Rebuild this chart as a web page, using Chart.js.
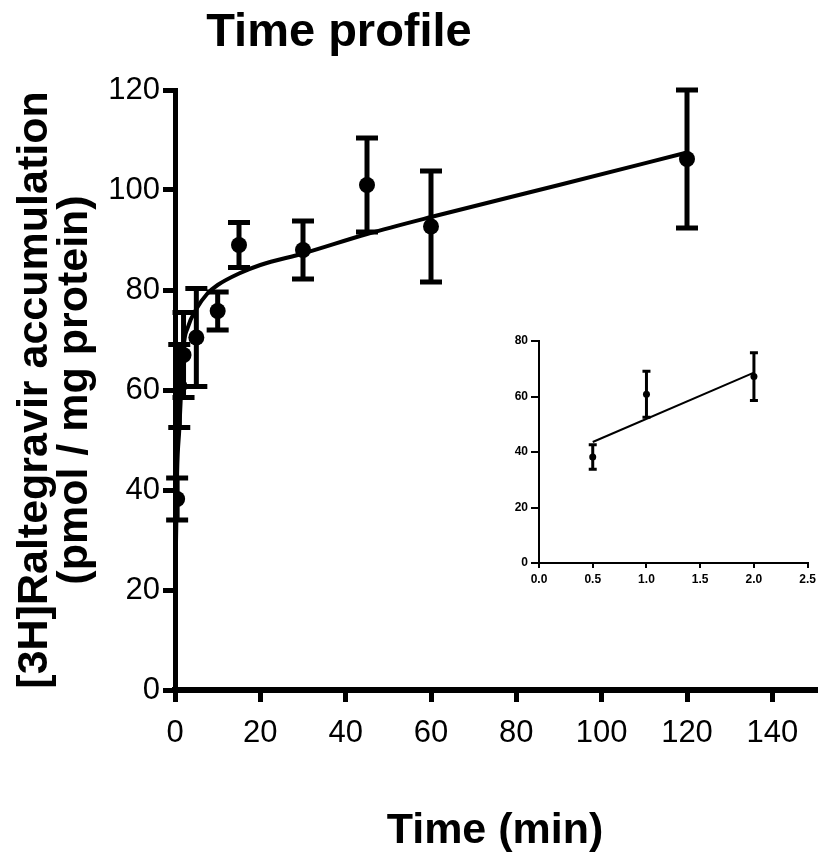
<!DOCTYPE html>
<html><head><meta charset="utf-8">
<script src="https://cdn.jsdelivr.net/npm/chart.js@4.4.0/dist/chart.umd.min.js"></script>
<style>
html,body{margin:0;padding:0;background:#fff;}
#wrap{position:relative;width:823px;height:861px;overflow:hidden;}
#main{position:absolute;left:0;top:0;}
#inset{position:absolute;left:480px;top:325px;}
</style></head><body>
<div id="wrap"><canvas id="main" width="823" height="861"></canvas><canvas id="inset" width="340" height="270"></canvas></div>
<script>
// ---- data ----
const timeMin = [0.5, 1, 2, 5, 10, 15, 30, 45, 60, 120];
const accumulation = [38.2, 60.8, 67, 70.5, 75.8, 89, 88, 101, 92.7, 106.2];
const accumulationSEM = [4.2, 8.3, 8.5, 9.8, 3.8, 4.5, 5.8, 9.4, 11.1, 13.8];
const fitTime = [0, 0.5, 1, 2, 3, 5, 7.5, 10, 15, 20, 30, 45, 60, 90, 120];
const fitValue = [16, 43.5, 52, 68.5, 72.5, 76.2, 79.2, 81, 83.3, 85, 87.3, 91.2, 94.6, 101, 107.5];
const insetTime = [0.5, 1, 2];
const insetValue = [38.2, 60.8, 67.2];
const insetSEM = [4.4, 8.3, 8.6];
const insetFitTime = [0.5, 2];
const insetFitValue = [43.6, 68.6];
const xTicksMain = [0, 20, 40, 60, 80, 100, 120, 140];
const yTicksMain = [0, 20, 40, 60, 80, 100, 120];
const xTicksInset = [0, 0.5, 1, 1.5, 2, 2.5];
const yTicksInset = [0, 20, 40, 60, 80];
const xTitle = 'Time (min)';
const yTitle = ['[3H]Raltegravir accumulation', '(pmol / mg protein)'];
const chartTitle = 'Time profile';

const SANS = "'Liberation Sans', Arial, sans-serif";

const pts = (xs, ys) => xs.map((x, i) => ({x: x, y: ys[i]}));

const errorBars = {
  id: 'errorBars',
  afterDatasetsDraw(chart, args, opts) {
    const ds = chart.data.datasets[opts.datasetIndex];
    const xs = chart.scales.x, ys = chart.scales.y;
    const ctx = chart.ctx;
    ctx.save();
    ctx.strokeStyle = '#000';
    ctx.lineCap = 'butt';
    ds.data.forEach((p, i) => {
      const e = opts.errors[i];
      const px = xs.getPixelForValue(p.x);
      const top = ys.getPixelForValue(p.y + e);
      const bot = ys.getPixelForValue(p.y - e);
      ctx.lineWidth = opts.lineWidth;
      ctx.beginPath();
      ctx.moveTo(px, top); ctx.lineTo(px, bot);
      ctx.stroke();
      ctx.lineWidth = opts.capWidth;
      ctx.beginPath();
      ctx.moveTo(px - opts.capHalf, top); ctx.lineTo(px + opts.capHalf, top);
      ctx.moveTo(px - opts.capHalf, bot); ctx.lineTo(px + opts.capHalf, bot);
      ctx.stroke();
    });
    ctx.restore();
  }
};

const titlePlugin = {
  id: 'mainTitle',
  afterDraw(chart, args, opts) {
    if (!opts.text) return;
    const ctx = chart.ctx;
    ctx.save();
    ctx.fillStyle = '#000';
    ctx.font = opts.font;
    ctx.textAlign = 'center';
    ctx.textBaseline = 'alphabetic';
    ctx.fillText(opts.text, chart.chartArea.left + opts.dx, opts.y);
    ctx.restore();
  }
};

Chart.register(errorBars, titlePlugin);

new Chart(document.getElementById('main'), {
  type: 'scatter',
  data: {
    datasets: [
      {
        data: pts(fitTime, fitValue),
        showLine: true,
        cubicInterpolationMode: 'monotone',
        borderColor: '#000',
        borderWidth: 4,
        pointRadius: 0,
        fill: false
      },
      {
        data: pts(timeMin, accumulation),
        showLine: false,
        pointRadius: 8,
        pointBackgroundColor: '#000',
        pointBorderColor: '#000',
        pointBorderWidth: 0
      }
    ]
  },
  options: {
    responsive: false,
    animation: false,
    events: [],
    layout: { padding: { top: 90, right: 2, left: 0, bottom: 0 } },
    plugins: {
      legend: { display: false },
      tooltip: { enabled: false },
      title: { display: false },
      errorBars: { datasetIndex: 1, errors: accumulationSEM, lineWidth: 5, capWidth: 5, capHalf: 11 },
      mainTitle: { text: chartTitle, font: "bold 47px " + SANS, dx: 164, y: 46 }
    },
    scales: {
      x: {
        type: 'linear', min: 0, max: 150,
        afterFit(s) { s.height = 171; },
        afterBuildTicks(s) { s.ticks = xTicksMain.map(v => ({value: v})); },
        grid: { drawOnChartArea: false, drawTicks: true, tickLength: 12, lineWidth: 5, color: '#000' },
        border: { display: true, width: 6, color: '#000' },
        ticks: { color: '#000', padding: 13, maxRotation: 0, font: { family: SANS, size: 31 } },
        title: { display: true, text: xTitle, color: '#000', padding: { top: 0, bottom: 8 },
                 font: { family: SANS, size: 43, weight: 'bold', lineHeight: 1.0 } }
      },
      y: {
        type: 'linear', min: 0, max: 120,
        afterFit(s) { s.width = 175; },
        afterBuildTicks(s) { s.ticks = yTicksMain.map(v => ({value: v})); },
        grid: { drawOnChartArea: false, drawTicks: true, tickLength: 12, lineWidth: 5, color: '#000' },
        border: { display: true, width: 5, color: '#000' },
        ticks: { color: '#000', padding: 3, font: { family: SANS, size: 31 } },
        title: { display: true, text: yTitle, color: '#000', padding: { top: 15, bottom: 0 },
                 font: { family: SANS, size: 43, weight: 'bold', lineHeight: 0.93 } }
      }
    }
  }
});

new Chart(document.getElementById('inset'), {
  type: 'scatter',
  data: {
    datasets: [
      {
        data: pts(insetFitTime, insetFitValue),
        showLine: true,
        borderColor: '#000',
        borderWidth: 2,
        pointRadius: 0,
        fill: false
      },
      {
        data: pts(insetTime, insetValue),
        showLine: false,
        pointRadius: 3.5,
        pointBackgroundColor: '#000',
        pointBorderColor: '#000',
        pointBorderWidth: 0
      }
    ]
  },
  options: {
    responsive: false,
    animation: false,
    events: [],
    layout: { padding: { top: 16, right: 8, left: 0, bottom: 0 } },
    plugins: {
      legend: { display: false },
      tooltip: { enabled: false },
      title: { display: false },
      errorBars: { datasetIndex: 1, errors: insetSEM, lineWidth: 3, capWidth: 3, capHalf: 4 },
      mainTitle: { text: '' }
    },
    scales: {
      x: {
        type: 'linear', min: 0, max: 2.5,
        afterFit(s) { s.height = 32; },
        afterBuildTicks(s) { s.ticks = xTicksInset.map(v => ({value: v})); },
        grid: { drawOnChartArea: false, drawTicks: true, tickLength: 5, lineWidth: 2, color: '#000' },
        border: { display: true, width: 2, color: '#000' },
        ticks: { color: '#000', padding: 4, maxRotation: 0, autoSkip: false,
                 callback: v => v.toFixed(1),
                 font: { family: SANS, size: 12, weight: 'bold' } }
      },
      y: {
        type: 'linear', min: 0, max: 80,
        afterFit(s) { s.width = 59; },
        afterBuildTicks(s) { s.ticks = yTicksInset.map(v => ({value: v})); },
        grid: { drawOnChartArea: false, drawTicks: true, tickLength: 8, lineWidth: 2, color: '#000' },
        border: { display: true, width: 2, color: '#000' },
        ticks: { color: '#000', padding: 3, autoSkip: false, font: { family: SANS, size: 12, weight: 'bold' } }
      }
    }
  }
});
</script>
</body></html>
